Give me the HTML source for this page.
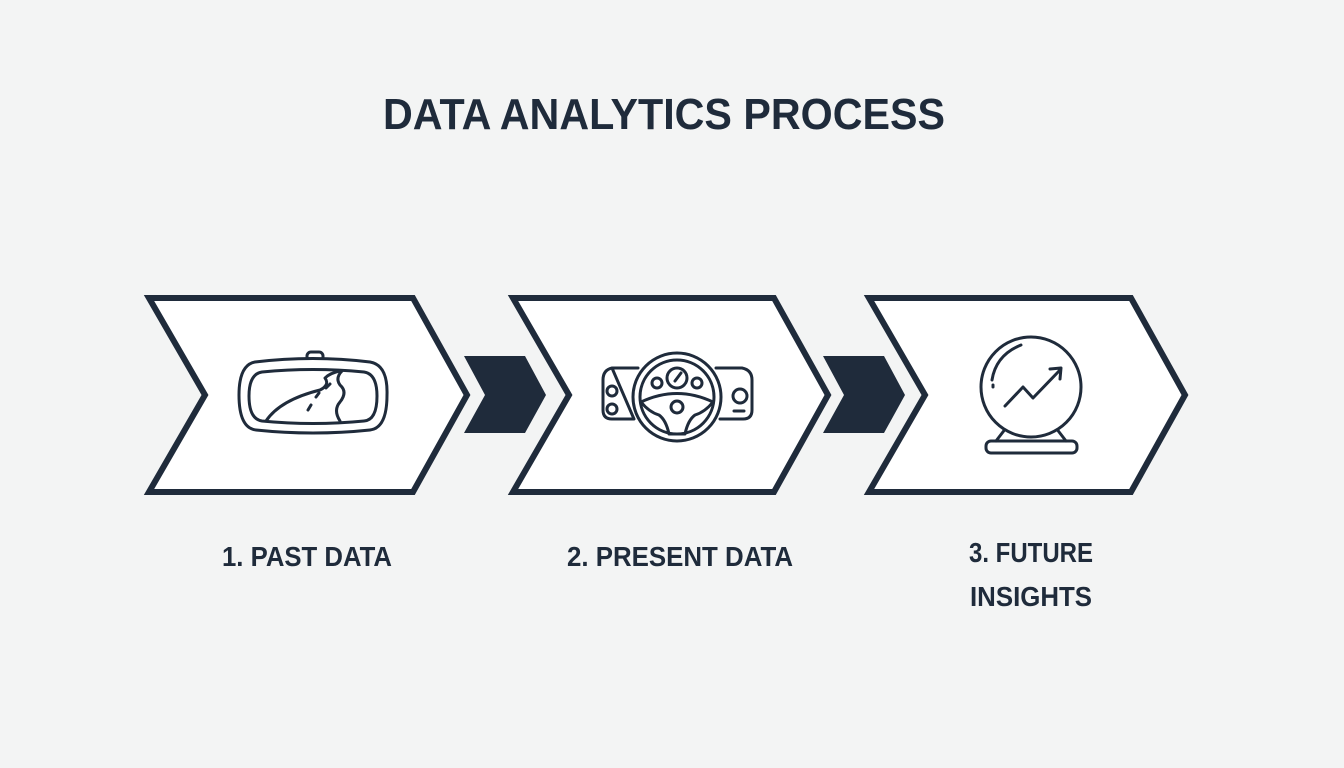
<!DOCTYPE html>
<html><head><meta charset="utf-8"><style>
html,body{margin:0;padding:0;background:#f3f4f4;}
svg{display:block}
text{font-family:"Liberation Sans",sans-serif;font-weight:bold;fill:#1f2b3b}
</style></head><body>
<svg width="1344" height="768" viewBox="0 0 1344 768" xmlns="http://www.w3.org/2000/svg">
<rect width="1344" height="768" fill="#f3f4f4"/>
<text x="664" y="129" text-anchor="middle" font-size="44" textLength="562" lengthAdjust="spacingAndGlyphs">DATA ANALYTICS PROCESS</text>
<g fill="#ffffff" stroke="#1f2b3b" stroke-width="6" stroke-linejoin="miter">
<polygon points="149,298 413,298 467,395 413,492 149,492 205,395"/>
<polygon points="513,298 774,298 828,395 774,492 513,492 569,395"/>
<polygon points="869,298 1131,298 1185,395 1131,492 869,492 925,395"/>
</g>
<g fill="#1f2b3b">
<polygon points="464,356 525,356 546,395 525,433 464,433 485,395"/>
<polygon points="823,356 884,356 905,395 884,433 823,433 844,395"/>
</g>
<g fill="none" stroke="#1f2b3b" stroke-width="3" stroke-linecap="round" stroke-linejoin="round">
<!-- mirror -->
<rect x="307" y="352" width="16" height="10" rx="4" fill="#fff"/>
<path d="M255,362 Q313,355 370,362 Q388,365 387,395 Q387,428 370,430 Q313,436 256,430 Q239,428 239,395 Q239,365 255,362Z" fill="#fff"/>
<path d="M262,372 Q313,367 364,372 Q377,374 377,396 Q377,420 364,421 Q313,426 262,421 Q249,419 249,396 Q249,374 262,372Z"/>
<path d="M266,421 Q280,400 320,390 Q330,385 325,378 Q330,373 340,371"/>
<path d="M342,371 Q335,378 340,385 Q348,392 340,402 Q333,410 340,421"/>
<path d="M308,410 L311,405 M316,397 L319,393 M326,388 L330,384"/>
<!-- dashboard -->
<path d="M612,368 L638,368 M716,368 L742,368 Q752,370 752,380 L752,410 Q752,419 743,419 L720,419 M634,419 L612,419 Q603,419 603,410 L603,380 Q603,370 612,368Z"/>
<circle cx="612" cy="391" r="5"/><circle cx="612" cy="409" r="5"/>
<circle cx="740" cy="396" r="7"/><path d="M734,411 L744,411"/>
<circle cx="677" cy="397" r="44" fill="#fff"/>
<circle cx="677" cy="397" r="37"/>
<circle cx="677" cy="378" r="10"/><path d="M675,381 L681,373"/>
<circle cx="657" cy="383" r="5"/><circle cx="697" cy="383" r="5"/>
<circle cx="677" cy="407" r="6"/>
<path d="M641,402 Q677,385 713,402 Q705,412 695,415 Q688,420 685,434 L669,434 Q666,420 659,415 Q649,412 641,402Z"/>
<!-- crystal ball -->
<path d="M996,441 L1006,428 M1066,441 L1056,428"/>
<rect x="986" y="441" width="91" height="12" rx="5"/>
<circle cx="1031" cy="387" r="50" fill="#fff"/>
<path d="M992,380 Q996,355 1021,345"/>
<path d="M993,385 L993,387" />
<path d="M1005,406 L1023,387 L1033,398 L1060,370 M1050,369 L1061,368 L1060,379"/>
</g>
<text x="307" y="566" text-anchor="middle" font-size="28" textLength="170" lengthAdjust="spacingAndGlyphs">1. PAST DATA</text>
<text x="680" y="566" text-anchor="middle" font-size="28" textLength="226" lengthAdjust="spacingAndGlyphs">2. PRESENT DATA</text>
<text x="1031" y="562" text-anchor="middle" font-size="28" textLength="124" lengthAdjust="spacingAndGlyphs">3. FUTURE</text>
<text x="1031" y="606" text-anchor="middle" font-size="28" textLength="122" lengthAdjust="spacingAndGlyphs">INSIGHTS</text>
</svg>
</body></html>
